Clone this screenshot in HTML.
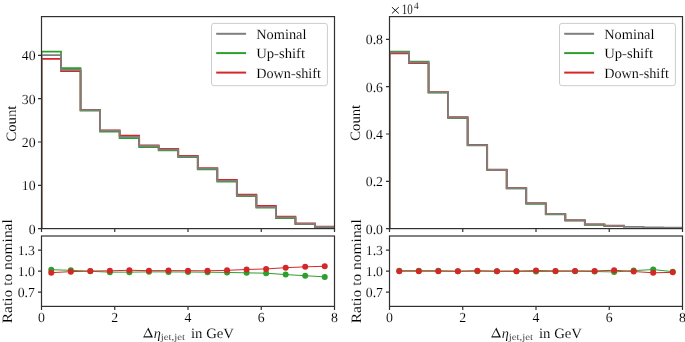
<!DOCTYPE html>
<html><head><meta charset="utf-8"><title>Histogram comparison</title>
<style>html,body{margin:0;padding:0;background:#fff;width:685px;height:342px;overflow:hidden;}svg{display:block;font-family:"Liberation Serif",serif;will-change:transform;text-rendering:geometricPrecision;}</style>
</head><body>
<svg width="685" height="342" viewBox="0 0 685 342">
<rect width="685" height="342" fill="#fff"/>
<clipPath id="cm0"><rect x="41.5" y="16.6" width="293" height="212"/></clipPath>
<clipPath id="cr0"><rect x="41.5" y="236" width="293" height="70.4"/></clipPath>
<g clip-path="url(#cm0)" fill="none" stroke-width="1.75" stroke-linejoin="miter">
<path d="M41.5 228.6 L41.5 51.6 L61.03 51.6 L61.03 68.1 L80.57 68.1 L80.57 110.6 L100.1 110.6 L100.1 131.7 L119.63 131.7 L119.63 138.2 L139.17 138.2 L139.17 147.2 L158.7 147.2 L158.7 150.3 L178.23 150.3 L178.23 157.1 L197.77 157.1 L197.77 169.3 L217.3 169.3 L217.3 181.5 L236.83 181.5 L236.83 196.2 L256.37 196.2 L256.37 207.5 L275.9 207.5 L275.9 218.1 L295.43 218.1 L295.43 224.2 L314.97 224.2 L314.97 227.1 L334.5 227.1 L334.5 228.6" stroke="#2ca02c"/>
<path d="M41.5 228.6 L41.5 58.9 L61.03 58.9 L61.03 71.1 L80.57 71.1 L80.57 109.8 L100.1 109.8 L100.1 130.4 L119.63 130.4 L119.63 135.5 L139.17 135.5 L139.17 145.4 L158.7 145.4 L158.7 148.8 L178.23 148.8 L178.23 155.8 L197.77 155.8 L197.77 168.2 L217.3 168.2 L217.3 179.8 L236.83 179.8 L236.83 194.6 L256.37 194.6 L256.37 205.8 L275.9 205.8 L275.9 216.5 L295.43 216.5 L295.43 223.4 L314.97 223.4 L314.97 226.6 L334.5 226.6 L334.5 228.6" stroke="#d62728"/>
<path d="M41.5 228.6 L41.5 55.1 L61.03 55.1 L61.03 69.8 L80.57 69.8 L80.57 110.1 L100.1 110.1 L100.1 130.7 L119.63 130.7 L119.63 136.8 L139.17 136.8 L139.17 145.9 L158.7 145.9 L158.7 149.6 L178.23 149.6 L178.23 156.5 L197.77 156.5 L197.77 168.5 L217.3 168.5 L217.3 180.8 L236.83 180.8 L236.83 195.6 L256.37 195.6 L256.37 207 L275.9 207 L275.9 217.4 L295.43 217.4 L295.43 223.9 L314.97 223.9 L314.97 226.8 L334.5 226.8 L334.5 228.6" stroke="#7f7f7f"/>
</g>
<g clip-path="url(#cr0)">
<polyline points="51.27,269.7 70.8,270.33 90.33,271.31 109.87,272.15 129.4,272.15 148.93,271.87 168.47,271.94 188,272.01 207.53,272.22 227.07,272.43 246.6,272.85 266.13,273.19 285.67,274.59 305.2,275.71 324.73,276.89" fill="none" stroke="#2ca02c" stroke-width="1"/>
<circle cx="51.27" cy="269.7" r="3" fill="#2ca02c"/>
<circle cx="70.8" cy="270.33" r="3" fill="#2ca02c"/>
<circle cx="90.33" cy="271.31" r="3" fill="#2ca02c"/>
<circle cx="109.87" cy="272.15" r="3" fill="#2ca02c"/>
<circle cx="129.4" cy="272.15" r="3" fill="#2ca02c"/>
<circle cx="148.93" cy="271.87" r="3" fill="#2ca02c"/>
<circle cx="168.47" cy="271.94" r="3" fill="#2ca02c"/>
<circle cx="188" cy="272.01" r="3" fill="#2ca02c"/>
<circle cx="207.53" cy="272.22" r="3" fill="#2ca02c"/>
<circle cx="227.07" cy="272.43" r="3" fill="#2ca02c"/>
<circle cx="246.6" cy="272.85" r="3" fill="#2ca02c"/>
<circle cx="266.13" cy="273.19" r="3" fill="#2ca02c"/>
<circle cx="285.67" cy="274.59" r="3" fill="#2ca02c"/>
<circle cx="305.2" cy="275.71" r="3" fill="#2ca02c"/>
<circle cx="324.73" cy="276.89" r="3" fill="#2ca02c"/>
<polyline points="51.27,272.64 70.8,271.66 90.33,271.03 109.87,270.82 129.4,270.26 148.93,270.68 168.47,270.61 188,270.68 207.53,270.82 227.07,270.33 246.6,269.49 266.13,268.94 285.67,267.68 305.2,266.84 324.73,266.28" fill="none" stroke="#d62728" stroke-width="1"/>
<circle cx="51.27" cy="272.64" r="3" fill="#d62728"/>
<circle cx="70.8" cy="271.66" r="3" fill="#d62728"/>
<circle cx="90.33" cy="271.03" r="3" fill="#d62728"/>
<circle cx="109.87" cy="270.82" r="3" fill="#d62728"/>
<circle cx="129.4" cy="270.26" r="3" fill="#d62728"/>
<circle cx="148.93" cy="270.68" r="3" fill="#d62728"/>
<circle cx="168.47" cy="270.61" r="3" fill="#d62728"/>
<circle cx="188" cy="270.68" r="3" fill="#d62728"/>
<circle cx="207.53" cy="270.82" r="3" fill="#d62728"/>
<circle cx="227.07" cy="270.33" r="3" fill="#d62728"/>
<circle cx="246.6" cy="269.49" r="3" fill="#d62728"/>
<circle cx="266.13" cy="268.94" r="3" fill="#d62728"/>
<circle cx="285.67" cy="267.68" r="3" fill="#d62728"/>
<circle cx="305.2" cy="266.84" r="3" fill="#d62728"/>
<circle cx="324.73" cy="266.28" r="3" fill="#d62728"/>
</g>
<g fill="none" stroke="#303030" stroke-width="1.2">
<rect x="41.5" y="16.6" width="293" height="212"/>
<rect x="41.5" y="236" width="293" height="70.4"/>
<path d="M41.5 228.6 v3.5 M41.5 306.4 v3.5 M114.75 228.6 v3.5 M114.75 306.4 v3.5 M188 228.6 v3.5 M188 306.4 v3.5 M261.25 228.6 v3.5 M261.25 306.4 v3.5 M334.5 228.6 v3.5 M334.5 306.4 v3.5 M41.5 228.6 h-3.5 M41.5 185.3 h-3.5 M41.5 142 h-3.5 M41.5 98.7 h-3.5 M41.5 55.4 h-3.5 M41.5 292.04 h-3.5 M41.5 271.1 h-3.5 M41.5 250.16 h-3.5"/>
</g>
<g fill="#000" stroke="#fff" stroke-width="0.1" font-family='"Liberation Serif", serif'>
<text x="41.5" y="322.3" text-anchor="middle" font-size="13.8">0</text>
<text x="114.75" y="322.3" text-anchor="middle" font-size="13.8">2</text>
<text x="188" y="322.3" text-anchor="middle" font-size="13.8">4</text>
<text x="261.25" y="322.3" text-anchor="middle" font-size="13.8">6</text>
<text x="334.5" y="322.3" text-anchor="middle" font-size="13.8">8</text>
<text x="35.6" y="233.6" text-anchor="end" font-size="13.8">0</text>
<text x="35.6" y="190.3" text-anchor="end" font-size="13.8">10</text>
<text x="35.6" y="147" text-anchor="end" font-size="13.8">20</text>
<text x="35.6" y="103.7" text-anchor="end" font-size="13.8">30</text>
<text x="35.6" y="60.4" text-anchor="end" font-size="13.8">40</text>
<text x="34.9" y="297.04" text-anchor="end" font-size="13.8">0.7</text>
<text x="34.9" y="276.1" text-anchor="end" font-size="13.8">1.0</text>
<text x="34.9" y="255.16" text-anchor="end" font-size="13.8">1.3</text>
<text transform="translate(16 123.6) rotate(-90)" text-anchor="middle" font-size="14.3" textLength="36" lengthAdjust="spacingAndGlyphs">Count</text>
<text transform="translate(12 271.2) rotate(-90)" text-anchor="middle" font-size="14.3" textLength="104" lengthAdjust="spacingAndGlyphs">Ratio to nominal</text>
<path fill-rule="evenodd" fill="#000" d="M148.3 327.5 L143.1 337.5 L153 337.5 Z M147.86 329.64 L144.4 336.3 L151 336.3 Z"/>
<text x="153.7" y="337.7" font-size="14.3" font-style="italic">&#951;</text>
<text x="160.7" y="339.8" font-size="9.4" fill="#111" textLength="24.3" lengthAdjust="spacingAndGlyphs">jet,jet</text>
<text x="191" y="337.7" font-size="14.3" textLength="43" lengthAdjust="spacingAndGlyphs">in GeV</text>
</g>
<rect x="211.5" y="23.4" width="115.9" height="62.3" rx="2.5" fill="#fff" fill-opacity="0.8" stroke="#cccccc" stroke-width="1"/>
<line x1="216.2" y1="33.8" x2="246.1" y2="33.8" stroke="#7f7f7f" stroke-width="2"/>
<line x1="216.2" y1="53.1" x2="246.1" y2="53.1" stroke="#2ca02c" stroke-width="2"/>
<line x1="216.2" y1="72.6" x2="246.1" y2="72.6" stroke="#d62728" stroke-width="2"/>
<g fill="#000" stroke="#fff" stroke-width="0.1" font-family='"Liberation Serif", serif'>
<text x="256.2" y="39" text-anchor="start" font-size="14.3" textLength="50.3" lengthAdjust="spacingAndGlyphs">Nominal</text>
<text x="256.2" y="58.2" text-anchor="start" font-size="14.3" textLength="48.9" lengthAdjust="spacingAndGlyphs">Up-shift</text>
<text x="256.2" y="77.9" text-anchor="start" font-size="14.3" textLength="64.8" lengthAdjust="spacingAndGlyphs">Down-shift</text>
</g>
<clipPath id="cm1"><rect x="389.5" y="16.6" width="293" height="212"/></clipPath>
<clipPath id="cr1"><rect x="389.5" y="236" width="293" height="70.4"/></clipPath>
<g clip-path="url(#cm1)" fill="none" stroke-width="1.75" stroke-linejoin="miter">
<path d="M389.5 228.6 L389.5 51.7 L409.03 51.7 L409.03 61.5 L428.57 61.5 L428.57 92.6 L448.1 92.6 L448.1 118 L467.63 118 L467.63 145.4 L487.17 145.4 L487.17 169.85 L506.7 169.85 L506.7 188.45 L526.23 188.45 L526.23 203.8 L545.77 203.8 L545.77 214.4 L565.3 214.4 L565.3 220.4 L584.83 220.4 L584.83 224.8 L604.37 224.8 L604.37 226.2 L623.9 226.2 L623.9 227.2" stroke="#2ca02c"/>
<path d="M389.5 228.6 L389.5 53.3 L409.03 53.3 L409.03 63.1 L428.57 63.1 L428.57 92 L448.1 92 L448.1 117.2 L467.63 117.2 L467.63 144.8 L487.17 144.8 L487.17 169.6 L506.7 169.6 L506.7 188.2 L526.23 188.2 L526.23 203 L545.77 203 L545.77 214.1 L565.3 214.1 L565.3 220.3 L584.83 220.3 L584.83 224.4 L604.37 224.4 L604.37 225.6 L623.9 225.6 L623.9 226.9" stroke="#d62728"/>
<path d="M389.5 228.6 L389.5 52.4 L409.03 52.4 L409.03 62.3 L428.57 62.3 L428.57 92.3 L448.1 92.3 L448.1 117.7 L467.63 117.7 L467.63 145.1 L487.17 145.1 L487.17 169.85 L506.7 169.85 L506.7 188.45 L526.23 188.45 L526.23 203.4 L545.77 203.4 L545.77 214.2 L565.3 214.2 L565.3 220.3 L584.83 220.3 L584.83 224.4 L604.37 224.4 L604.37 225.9 L623.9 225.9 L623.9 226.8 L643.43 226.8 L643.43 227.3 L662.97 227.3 L662.97 227.7 L682.5 227.7 L682.5 228.6" stroke="#7f7f7f"/>
</g>
<g clip-path="url(#cr1)">
<polyline points="399.27,270.68 418.8,270.68 438.33,270.75 457.87,271.24 477.4,271.17 496.93,271.24 516.47,271.17 536,271.52 555.53,271.24 575.07,271.17 594.6,271.52 614.13,271.94 633.67,270.61 653.2,269.56 672.73,271.66" fill="none" stroke="#2ca02c" stroke-width="1"/>
<circle cx="399.27" cy="270.68" r="3" fill="#2ca02c"/>
<circle cx="418.8" cy="270.68" r="3" fill="#2ca02c"/>
<circle cx="438.33" cy="270.75" r="3" fill="#2ca02c"/>
<circle cx="457.87" cy="271.24" r="3" fill="#2ca02c"/>
<circle cx="477.4" cy="271.17" r="3" fill="#2ca02c"/>
<circle cx="496.93" cy="271.24" r="3" fill="#2ca02c"/>
<circle cx="516.47" cy="271.17" r="3" fill="#2ca02c"/>
<circle cx="536" cy="271.52" r="3" fill="#2ca02c"/>
<circle cx="555.53" cy="271.24" r="3" fill="#2ca02c"/>
<circle cx="575.07" cy="271.17" r="3" fill="#2ca02c"/>
<circle cx="594.6" cy="271.52" r="3" fill="#2ca02c"/>
<circle cx="614.13" cy="271.94" r="3" fill="#2ca02c"/>
<circle cx="633.67" cy="270.61" r="3" fill="#2ca02c"/>
<circle cx="653.2" cy="269.56" r="3" fill="#2ca02c"/>
<circle cx="672.73" cy="271.66" r="3" fill="#2ca02c"/>
<polyline points="399.27,271.2 418.8,271.2 438.33,271.2 457.87,271.2 477.4,270.75 496.93,271.2 516.47,271.2 536,270.54 555.53,270.96 575.07,270.96 594.6,270.96 614.13,270.26 633.67,271.52 653.2,272.78 672.73,272.36" fill="none" stroke="#d62728" stroke-width="1"/>
<circle cx="399.27" cy="271.2" r="3" fill="#d62728"/>
<circle cx="418.8" cy="271.2" r="3" fill="#d62728"/>
<circle cx="438.33" cy="271.2" r="3" fill="#d62728"/>
<circle cx="457.87" cy="271.2" r="3" fill="#d62728"/>
<circle cx="477.4" cy="270.75" r="3" fill="#d62728"/>
<circle cx="496.93" cy="271.2" r="3" fill="#d62728"/>
<circle cx="516.47" cy="271.2" r="3" fill="#d62728"/>
<circle cx="536" cy="270.54" r="3" fill="#d62728"/>
<circle cx="555.53" cy="270.96" r="3" fill="#d62728"/>
<circle cx="575.07" cy="270.96" r="3" fill="#d62728"/>
<circle cx="594.6" cy="270.96" r="3" fill="#d62728"/>
<circle cx="614.13" cy="270.26" r="3" fill="#d62728"/>
<circle cx="633.67" cy="271.52" r="3" fill="#d62728"/>
<circle cx="653.2" cy="272.78" r="3" fill="#d62728"/>
<circle cx="672.73" cy="272.36" r="3" fill="#d62728"/>
</g>
<g fill="none" stroke="#303030" stroke-width="1.2">
<rect x="389.5" y="16.6" width="293" height="212"/>
<rect x="389.5" y="236" width="293" height="70.4"/>
<path d="M389.5 228.6 v3.5 M389.5 306.4 v3.5 M462.75 228.6 v3.5 M462.75 306.4 v3.5 M536 228.6 v3.5 M536 306.4 v3.5 M609.25 228.6 v3.5 M609.25 306.4 v3.5 M682.5 228.6 v3.5 M682.5 306.4 v3.5 M389.5 228.6 h-3.5 M389.5 181.3 h-3.5 M389.5 134 h-3.5 M389.5 86.7 h-3.5 M389.5 39.4 h-3.5 M389.5 292.04 h-3.5 M389.5 271.1 h-3.5 M389.5 250.16 h-3.5"/>
</g>
<g fill="#000" stroke="#fff" stroke-width="0.1" font-family='"Liberation Serif", serif'>
<text x="389.5" y="322.3" text-anchor="middle" font-size="13.8">0</text>
<text x="462.75" y="322.3" text-anchor="middle" font-size="13.8">2</text>
<text x="536" y="322.3" text-anchor="middle" font-size="13.8">4</text>
<text x="609.25" y="322.3" text-anchor="middle" font-size="13.8">6</text>
<text x="682.5" y="322.3" text-anchor="middle" font-size="13.8">8</text>
<text x="383" y="233.6" text-anchor="end" font-size="13.8">0.0</text>
<text x="383" y="186.3" text-anchor="end" font-size="13.8">0.2</text>
<text x="383" y="139" text-anchor="end" font-size="13.8">0.4</text>
<text x="383" y="91.7" text-anchor="end" font-size="13.8">0.6</text>
<text x="383" y="44.4" text-anchor="end" font-size="13.8">0.8</text>
<text x="383" y="297.04" text-anchor="end" font-size="13.8">0.7</text>
<text x="383" y="276.1" text-anchor="end" font-size="13.8">1.0</text>
<text x="383" y="255.16" text-anchor="end" font-size="13.8">1.3</text>
<text transform="translate(360.2 122.8) rotate(-90)" text-anchor="middle" font-size="14.3" textLength="36" lengthAdjust="spacingAndGlyphs">Count</text>
<text transform="translate(360.5 271.2) rotate(-90)" text-anchor="middle" font-size="14.3" textLength="104" lengthAdjust="spacingAndGlyphs">Ratio to nominal</text>
<path fill-rule="evenodd" fill="#000" d="M496.3 327.5 L491.1 337.5 L501 337.5 Z M495.86 329.64 L492.4 336.3 L499 336.3 Z"/>
<text x="501.7" y="337.7" font-size="14.3" font-style="italic">&#951;</text>
<text x="508.7" y="339.8" font-size="9.4" fill="#111" textLength="24.3" lengthAdjust="spacingAndGlyphs">jet,jet</text>
<text x="539" y="337.7" font-size="14.3" textLength="43" lengthAdjust="spacingAndGlyphs">in GeV</text>
<path d="M391.9 7.1 L398.8 13.5 M398.8 7.1 L391.9 13.5" stroke="#000" stroke-width="0.9" fill="none"/>
<text x="401.8" y="13.9" text-anchor="start" font-size="14.3" textLength="11" lengthAdjust="spacingAndGlyphs">10</text>
<text x="413.8" y="8.8" text-anchor="start" font-size="10">4</text>
</g>
<rect x="559.5" y="23.4" width="115.9" height="62.3" rx="2.5" fill="#fff" fill-opacity="0.8" stroke="#cccccc" stroke-width="1"/>
<line x1="564.2" y1="33.8" x2="594.1" y2="33.8" stroke="#7f7f7f" stroke-width="2"/>
<line x1="564.2" y1="53.1" x2="594.1" y2="53.1" stroke="#2ca02c" stroke-width="2"/>
<line x1="564.2" y1="72.6" x2="594.1" y2="72.6" stroke="#d62728" stroke-width="2"/>
<g fill="#000" stroke="#fff" stroke-width="0.1" font-family='"Liberation Serif", serif'>
<text x="604.2" y="39" text-anchor="start" font-size="14.3" textLength="50.3" lengthAdjust="spacingAndGlyphs">Nominal</text>
<text x="604.2" y="58.2" text-anchor="start" font-size="14.3" textLength="48.9" lengthAdjust="spacingAndGlyphs">Up-shift</text>
<text x="604.2" y="77.9" text-anchor="start" font-size="14.3" textLength="64.8" lengthAdjust="spacingAndGlyphs">Down-shift</text>
</g>
</svg>
</body></html>
